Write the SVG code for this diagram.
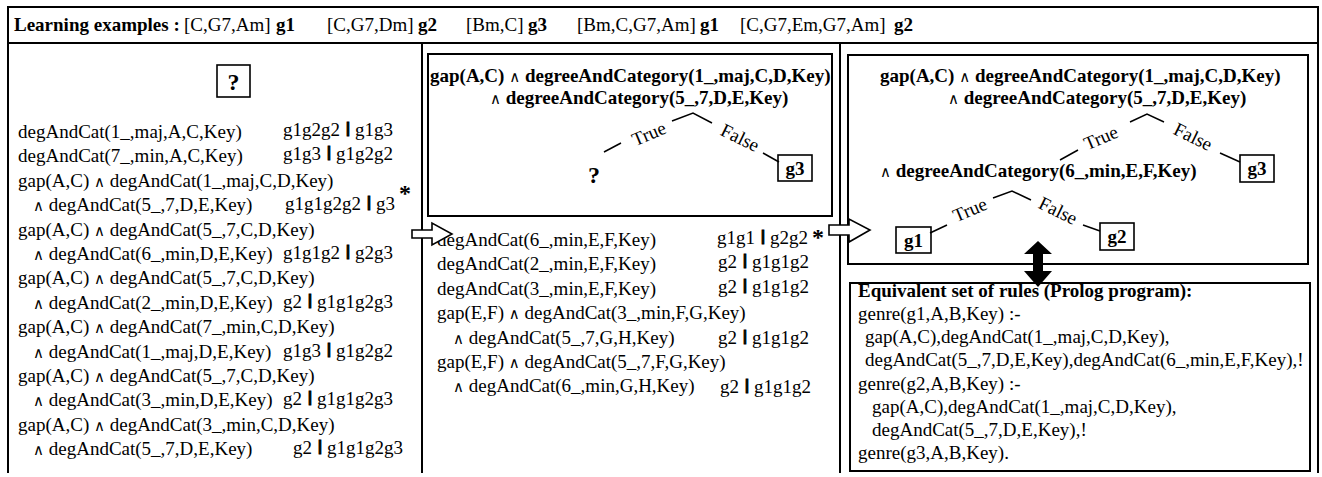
<svg xmlns="http://www.w3.org/2000/svg" width="1322" height="477" viewBox="0 0 1322 477">
<style>
.t{font-family:"Liberation Serif","Times New Roman",serif;font-size:19px;fill:#000}
.b{font-weight:bold}
.a{font-family:"DejaVu Sans",sans-serif;font-size:15px;font-weight:normal}
.bar{font-family:"Liberation Sans",Arial,sans-serif;font-size:14px;font-weight:bold;fill:#000;stroke:#000;stroke-width:0.9}
.q{font-family:"Liberation Serif","Times New Roman",serif;font-size:24px;font-weight:bold;fill:#000}
.ln{stroke:#000;stroke-width:2;fill:none}
.box{fill:#fff;stroke:#000;stroke-width:2}
.sbox{fill:#fff;stroke:#000;stroke-width:1.6}
.edge{stroke:#000;stroke-width:1.5;fill:none}
.warr{fill:#fff;stroke:#000;stroke-width:1.6;stroke-linejoin:miter}
</style>
<rect width="1322" height="477" fill="#fff"/>
<g id="frame">
<line class="ln" x1="7" y1="7" x2="1319" y2="7"/>
<line class="ln" x1="7" y1="43" x2="1319" y2="43"/>
<line class="ln" x1="8" y1="6" x2="8" y2="473"/>
<line class="ln" x1="1318" y1="6" x2="1318" y2="473"/>
<line class="ln" x1="422" y1="43" x2="422" y2="473"/>
<line class="ln" x1="840" y1="43" x2="840" y2="473"/>
</g>
<g id="header">
<text class="t" y="31"><tspan class="b" x="14">Learning examples :</tspan><tspan x="184">[C,G7,Am]</tspan><tspan class="b" x="276">g1</tspan><tspan x="327">[C,G7,Dm]</tspan><tspan class="b" x="418">g2</tspan><tspan x="466">[Bm,C]</tspan><tspan class="b" x="528">g3</tspan><tspan x="577">[Bm,C,G7,Am]</tspan><tspan class="b" x="700">g1</tspan><tspan x="740">[C,G7,Em,G7,Am]</tspan><tspan class="b" x="894">g2</tspan></text>
</g>
<g id="node-root-unknown">
<rect class="sbox" x="217" y="65" width="33" height="32"/>
<text class="q" x="233.5" y="90" text-anchor="middle">?</text>
</g>
<g id="left-candidates">
<text class="t" x="18" y="138">degAndCat(1_,maj,A,C,Key)</text>
<text class="t" x="18" y="162.4">degAndCat(7_,min,A,C,Key)</text>
<text class="t" x="18" y="186.8">gap(A,C) <tspan class="a">∧</tspan> degAndCat(1_,maj,C,D,Key)</text>
<text class="t" x="33" y="211.2"><tspan class="a">∧</tspan> degAndCat(5_,7,D,E,Key)</text>
<text class="t" x="18" y="235.6">gap(A,C) <tspan class="a">∧</tspan> degAndCat(5_,7,C,D,Key)</text>
<text class="t" x="33" y="260"><tspan class="a">∧</tspan> degAndCat(6_,min,D,E,Key)</text>
<text class="t" x="18" y="284.4">gap(A,C) <tspan class="a">∧</tspan> degAndCat(5_,7,C,D,Key)</text>
<text class="t" x="33" y="308.8"><tspan class="a">∧</tspan> degAndCat(2_,min,D,E,Key)</text>
<text class="t" x="18" y="333.2">gap(A,C) <tspan class="a">∧</tspan> degAndCat(7_,min,C,D,Key)</text>
<text class="t" x="33" y="357.6"><tspan class="a">∧</tspan> degAndCat(1_,maj,D,E,Key)</text>
<text class="t" x="18" y="382">gap(A,C) <tspan class="a">∧</tspan> degAndCat(5_,7,C,D,Key)</text>
<text class="t" x="33" y="406.4"><tspan class="a">∧</tspan> degAndCat(3_,min,D,E,Key)</text>
<text class="t" x="18" y="430.8">gap(A,C) <tspan class="a">∧</tspan> degAndCat(3_,min,C,D,Key)</text>
<text class="t" x="33" y="455.2"><tspan class="a">∧</tspan> degAndCat(5_,7,D,E,Key)</text>
<text class="t" x="283" y="136">g1g2g2</text><text class="bar" x="346" y="133">|</text><text class="t" x="355" y="136">g1g3</text>
<text class="t" x="283" y="160.4">g1g3</text><text class="bar" x="327" y="157.4">|</text><text class="t" x="336" y="160.4">g1g2g2</text>
<text class="t" x="285" y="210.2">g1g1g2g2</text><text class="bar" x="367" y="207.2">|</text><text class="t" x="376" y="210.2">g3</text>
<text class="q" x="399" y="201">*</text>
<text class="t" x="283" y="259">g1g1g2</text><text class="bar" x="346" y="256">|</text><text class="t" x="355" y="259">g2g3</text>
<text class="t" x="283" y="307.8">g2</text><text class="bar" x="308" y="304.8">|</text><text class="t" x="317" y="307.8">g1g1g2g3</text>
<text class="t" x="283" y="356.6">g1g3</text><text class="bar" x="327" y="353.6">|</text><text class="t" x="336" y="356.6">g1g2g2</text>
<text class="t" x="283" y="405.4">g2</text><text class="bar" x="308" y="402.4">|</text><text class="t" x="317" y="405.4">g1g1g2g3</text>
<text class="t" x="293" y="454.2">g2</text><text class="bar" x="318" y="451.2">|</text><text class="t" x="327" y="454.2">g1g1g2g3</text>
</g>
<g id="mid-tree">
<rect class="box" x="428" y="54" width="404" height="162"/>
<text class="t b" x="430" y="82">gap(A,C) <tspan class="a">∧</tspan> degreeAndCategory(1_,maj,C,D,Key)</text>
<text class="t b" x="490" y="104"><tspan class="a">∧</tspan> degreeAndCategory(5_,7,D,E,Key)</text>
<text class="t" x="649" y="140" text-anchor="middle" transform="rotate(-23 649 134)">True</text>
<text class="t" x="740" y="144" text-anchor="middle" transform="rotate(26 740 138)">False</text>
<text class="q" x="594" y="183" text-anchor="middle">?</text>
</g>
<g id="mid-leaf-g3">
<rect class="sbox" x="778" y="155" width="34" height="26"/>
<text class="t b" x="795" y="175" text-anchor="middle">g3</text>
</g>
<g id="mid-candidates">
<text class="t" x="437" y="246">degAndCat(6_,min,E,F,Key)</text>
<text class="t" x="437" y="270.4">degAndCat(2_,min,E,F,Key)</text>
<text class="t" x="437" y="294.8">degAndCat(3_,min,E,F,Key)</text>
<text class="t" x="437" y="319.2">gap(E,F) <tspan class="a">∧</tspan> degAndCat(3_,min,F,G,Key)</text>
<text class="t" x="453" y="343.6"><tspan class="a">∧</tspan> degAndCat(5_,7,G,H,Key)</text>
<text class="t" x="437" y="368">gap(E,F) <tspan class="a">∧</tspan> degAndCat(5_,7,F,G,Key)</text>
<text class="t" x="453" y="392.4"><tspan class="a">∧</tspan> degAndCat(6_,min,G,H,Key)</text>
<text class="t" x="717" y="244">g1g1</text><text class="bar" x="761" y="241">|</text><text class="t" x="770" y="244">g2g2</text>
<text class="q" x="812" y="245">*</text>
<text class="t" x="718" y="268.4">g2</text><text class="bar" x="743" y="265.4">|</text><text class="t" x="752" y="268.4">g1g1g2</text>
<text class="t" x="718" y="292.8">g2</text><text class="bar" x="743" y="289.8">|</text><text class="t" x="752" y="292.8">g1g1g2</text>
<text class="t" x="718" y="343.6">g2</text><text class="bar" x="743" y="340.6">|</text><text class="t" x="752" y="343.6">g1g1g2</text>
<text class="t" x="720" y="393.4">g2</text><text class="bar" x="745" y="390.4">|</text><text class="t" x="754" y="393.4">g1g1g2</text>
</g>
<g id="right-tree">
<rect class="box" x="848" y="55" width="460" height="209"/>
<text class="t b" x="880" y="82">gap(A,C) <tspan class="a">∧</tspan> degreeAndCategory(1_,maj,C,D,Key)</text>
<text class="t b" x="948" y="104"><tspan class="a">∧</tspan> degreeAndCategory(5_,7,D,E,Key)</text>
<text class="t" x="1101" y="144" text-anchor="middle" transform="rotate(-23 1101 138)">True</text>
<text class="t" x="1193" y="143" text-anchor="middle" transform="rotate(26 1193 137)">False</text>
<text class="t b" x="880" y="177"><tspan class="a">∧</tspan> degreeAndCategory(6_,min,E,F,Key)</text>
<text class="t" x="970" y="216" text-anchor="middle" transform="rotate(-23 970 210)">True</text>
<text class="t" x="1058" y="217" text-anchor="middle" transform="rotate(26 1058 211)">False</text>
</g>
<g id="right-leaf-g3">
<rect class="sbox" x="1240" y="155" width="34" height="27"/>
<text class="t b" x="1257" y="175" text-anchor="middle">g3</text>
</g>
<g id="right-leaf-g1">
<rect class="sbox" x="896" y="227" width="35" height="26"/>
<text class="t b" x="913.5" y="247" text-anchor="middle">g1</text>
</g>
<g id="right-leaf-g2">
<rect class="sbox" x="1100" y="223" width="34" height="27"/>
<text class="t b" x="1117" y="243" text-anchor="middle">g2</text>
</g>
<g id="rules">
<rect class="box" x="850" y="283" width="460" height="188"/>
<text class="t b" x="858" y="297">Equivalent set of rules (Prolog program):</text>
<text class="t" x="858" y="320">genre(g1,A,B,Key) :-</text>
<text class="t" x="865" y="343">gap(A,C),degAndCat(1_,maj,C,D,Key),</text>
<text class="t" x="865" y="366">degAndCat(5_,7,D,E,Key),degAndCat(6_,min,E,F,Key),!</text>
<text class="t" x="858" y="389.5">genre(g2,A,B,Key) :-</text>
<text class="t" x="872" y="413">gap(A,C),degAndCat(1_,maj,C,D,Key),</text>
<text class="t" x="872" y="436">degAndCat(5_,7,D,E,Key),!</text>
<text class="t" x="858" y="459">genre(g3,A,B,Key).</text>
</g>
<g id="connectors">
<polyline class="edge" points="672,121 693,113 712,123"/>
<line class="edge" x1="604" y1="152" x2="621" y2="143"/>
<line class="edge" x1="763" y1="153" x2="779" y2="162"/>
<polyline class="edge" points="1130,122 1147,114 1164,122"/>
<line class="edge" x1="1060" y1="160" x2="1078" y2="150"/>
<line class="edge" x1="1220" y1="153" x2="1240" y2="162"/>
<polyline class="edge" points="993,198 1012,191 1031,200"/>
<line class="edge" x1="930" y1="233" x2="947" y2="225"/>
<line class="edge" x1="1083" y1="225" x2="1100" y2="231"/>
<polygon class="warr" points="412,230 432,230 432,223 452,234 432,245 432,238 412,238"/>
<polygon class="warr" points="829,225 849,225 849,219 870,230 849,242 849,235 829,235"/>
<polygon fill="#000" points="1038,241 1052,254 1043,254 1043,271 1052,271 1038,287 1024,271 1033,271 1033,254 1024,254"/>
</g>
</svg>
